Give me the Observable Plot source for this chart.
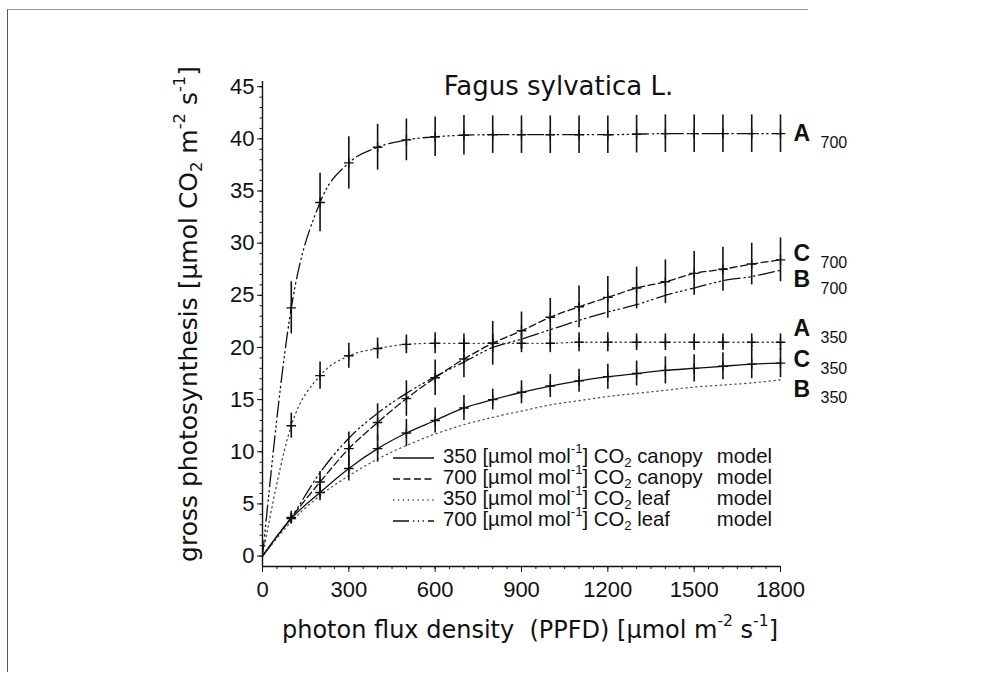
<!DOCTYPE html>
<html><head><meta charset="utf-8">
<script src="https://cdn.jsdelivr.net/npm/d3@7"></script>
<script src="https://cdn.jsdelivr.net/npm/@observablehq/plot@0.6"></script>
<style>
html,body{margin:0;padding:0;background:#fff;}
#wrap{position:relative;width:1000px;height:686px;overflow:hidden;}
#scan{position:absolute;left:7px;top:9px;width:800px;height:662px;border-top:1px solid #9a9a9a;border-left:1px solid #555;pointer-events:none;}
</style></head><body><div id="wrap"></div>
<script>
// ---------- data ----------
const ppfd = [0,100,200,300,400,500,600,700,800,900,1000,1100,1200,1300,1400,1500,1600,1700,1800];
const A700 = [0,23.8,33.9,37.7,39.2,39.9,40.2,40.35,40.4,40.4,40.4,40.4,40.4,40.45,40.5,40.5,40.5,40.5,40.5];
const B700 = [0,3.7,8.0,11.3,13.7,15.6,17.2,18.6,20.0,20.8,21.7,22.6,23.4,24.1,25.0,25.7,26.4,26.8,27.4];
const C700 = [0,3.7,7.1,10.3,12.8,15.1,17.1,18.9,20.4,21.6,22.9,23.9,24.8,25.7,26.3,27.1,27.5,28.0,28.4];
const A350 = [0,12.5,17.3,19.2,19.9,20.3,20.4,20.4,20.4,20.4,20.4,20.5,20.5,20.5,20.5,20.5,20.5,20.5,20.5];
const B350 = [0,3.3,5.8,7.7,9.3,10.6,11.7,12.6,13.3,13.9,14.5,14.9,15.3,15.6,15.9,16.2,16.4,16.6,16.9];
const C350 = [0,3.6,6.1,8.4,10.3,11.8,13.0,14.2,15.0,15.7,16.3,16.8,17.2,17.5,17.8,18.0,18.2,18.4,18.5];
// error bar half-lengths
const A700err = [0,2.5,2.8,2.5,2.2,2.0,1.9,1.9,1.8,1.8,1.8,1.8,1.8,1.8,1.8,1.8,1.8,1.8,1.8];
const A350err = [0,1.2,1.3,1.2,1.0,0.9,1.0,0.9,0.9,0.9,0.9,0.9,0.9,0.8,0.8,0.8,0.8,0.8,0.8];
const C700err = [0,0.6,1.0,1.6,1.8,1.7,1.7,1.8,2.1,1.8,1.8,2.0,2.0,2.0,2.1,2.1,2.1,2.0,2.1];
const C350err = [0,0.5,0.8,1.2,1.3,1.3,1.2,1.2,1.0,1.1,1.1,1.1,1.2,1.2,1.3,1.3,1.3,1.4,1.4];

const seriesKeys = ["A700","B700","C700","A350","B350","C350"];
const seriesLetter = ["A","B","C","A","B","C"];
const seriesSub = ["700","700","700","350","350","350"];
const labelNudge = [0,-0.9,0.6,1.3,-0.9,0.3];

const xMajor = [0,300,600,900,1200,1500,1800];
const xMinor = d3.range(0,1801,50);
const yMajor = [0,5,10,15,20,25,30,35,40,45];
const yMinor = d3.range(0,46,1);

const titleText = "Fagus sylvatica L.";
const legendRows = [
  {conc:"350", kind:"canopy", key:"C350"},
  {conc:"700", kind:"canopy", key:"C700"},
  {conc:"350", kind:"leaf", key:"A350"},
  {conc:"700", kind:"leaf", key:"A700"}
];

// ---------- styles ----------
const values = {A700,B700,C700,A350,B350,C350};
const errs = {A700:A700err, A350:A350err, C700:C700err, C350:C350err};
const dash = {
  A700:"16,4,1.3,3.5,1.3,3.5,1.3,4", B700:"16,4,1.3,3.5,1.3,3.5,1.3,4",
  C700:"7,3.5", C350:null,
  A350:"1.3,3.6", B350:"1.3,3.6"
};
const col = {A700:"#111",B700:"#111",C700:"#111",C350:"#111",A350:"#444",B350:"#555"};
const FONT = "'Liberation Sans', Arial, Helvetica, sans-serif";
const WIDE = "'DejaVu Sans', 'Liberation Sans', sans-serif";

// ---------- data tables ----------
const tidy = seriesKeys.flatMap(k => ppfd.map((x,i) => ({key:k, x, y: values[k][i]})));
const errData = Object.keys(errs).flatMap(k => ppfd.map((x,i) => ({key:k, x, y: values[k][i], e: errs[k][i]})).filter(d => d.x > 0));
const labels = seriesKeys.map((k,i) => ({key:k, letter: seriesLetter[i], sub: seriesSub[i], y: values[k][values[k].length-1] + labelNudge[i]}));

const chart = Plot.plot({
  width: 1000, height: 686,
  marginLeft: 262, marginRight: 220, marginTop: 81, marginBottom: 120,
  style: {background: "transparent", fontFamily: FONT, color: "#111"},
  x: {domain: [0,1800]},
  y: {domain: [-1,45.5]},
  marks: [
    Plot.ruleY([-1], {stroke:"#111", strokeWidth:1.4}),
    Plot.ruleX([0], {stroke:"#111", strokeWidth:1.4}),
    Plot.axisX({ticks: xMinor, tickSize: 3, tickFormat: () => "", label: null}),
    Plot.axisX({ticks: xMajor, tickSize: 6, tickPadding: 9, fontSize: 22, label: null, tickFormat: d => String(d)}),
    Plot.axisY({ticks: yMinor, tickSize: 2.5, tickFormat: () => "", label: null}),
    Plot.axisY({ticks: yMajor, tickSize: 5, tickPadding: 3, fontSize: 22, label: null, tickFormat: d => String(d)}),
    ...seriesKeys.map(k => Plot.line(tidy.filter(d => d.key === k), {
      x: "x", y: "y", curve: "monotone-x", stroke: col[k], strokeWidth: 1.3,
      strokeDasharray: dash[k] || undefined
    })),
    Plot.ruleX(errData, {x: "x", y1: d => d.y - d.e, y2: d => d.y + d.e, stroke: "#111", strokeWidth: 1.6}),
    Plot.dot(errData, {x: "x", y: "y", symbol: "plus", r: 3.2, stroke: "#111", strokeWidth: 1.4}),
    Plot.text(labels, {y: "y", text: "letter", frameAnchor: "right", dx: 13, textAnchor: "start", fontSize: 23, fontWeight: "bold", fill: "#111"}),
    Plot.text(labels, {y: "y", text: "sub", frameAnchor: "right", dx: 40, dy: 9, textAnchor: "start", fontSize: 16, fill: "#111"}),
    Plot.text([titleText], {frameAnchor: "top", dx: 37, dy: -5, fontSize: 26, fontFamily: WIDE, fill: "#111"})
  ]
});

document.getElementById("wrap").appendChild(chart);
const scan = document.createElement("div"); scan.id = "scan";
document.getElementById("wrap").appendChild(scan);

const svg = d3.select(chart);

function rich(sel, parts, size) {
  let cur = 0;
  for (const p of parts) {
    const target = p.sup ? -0.4*size : p.sub ? 0.28*size : 0;
    const ts = sel.append("tspan").text(p.t).attr("dy", (target - cur).toFixed(2));
    if (p.sup || p.sub) ts.attr("font-size", (size*0.65).toFixed(1));
    cur = target;
  }
}

// x axis title
{
  const size = 24;
  const t = svg.append("text").attr("x", 530).attr("y", 631)
    .attr("text-anchor","middle").attr("dominant-baseline","middle")
    .attr("font-family", WIDE).attr("font-size", size).attr("fill","#111")
    .style("white-space","pre");
  rich(t, [{t:"photon flux density  (PPFD) [µmol m"},{t:"-2",sup:true},{t:" s"},{t:"-1",sup:true},{t:"]"}], size);
}
// y axis title
{
  const size = 25;
  const t = svg.append("text").attr("transform","translate(190,314) rotate(-90)")
    .attr("text-anchor","middle").attr("dominant-baseline","middle")
    .attr("font-family", WIDE).attr("font-size", size).attr("fill","#111");
  rich(t, [{t:"gross photosynthesis [µmol CO"},{t:"2",sub:true},{t:" m"},{t:"-2",sup:true},{t:" s"},{t:"-1",sup:true},{t:"]"}], size);
}
// legend
{
  const rowY = [458, 479, 500, 521];
  const g = svg.append("g").attr("font-family", FONT).attr("fill","#111");
  legendRows.forEach((r, i) => {
    const y = rowY[i];
    g.append("line").attr("x1",393).attr("x2",434).attr("y1",y).attr("y2",y)
      .attr("stroke", col[r.key]).attr("stroke-width",1.3)
      .attr("stroke-dasharray", dash[r.key] || null);
    const size = 20.3;
    const t = g.append("text").attr("x",443).attr("y",y).attr("text-anchor","start")
      .attr("dominant-baseline","middle").attr("font-size",size);
    rich(t, [{t:r.conc + " [µmol mol"},{t:"-1",sup:true},{t:"] CO"},{t:"2",sub:true},{t:" " + r.kind}], size);
    g.append("text").attr("x",772).attr("y",y).attr("text-anchor","end").attr("dominant-baseline","middle")
      .attr("font-size",size).text("model");
  });
}
</script>
</body></html>
